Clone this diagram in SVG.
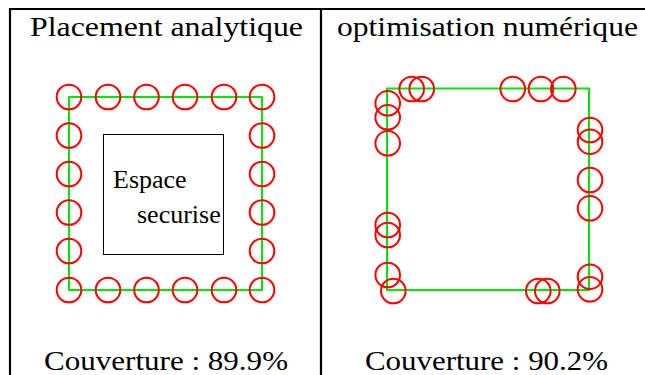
<svg xmlns="http://www.w3.org/2000/svg" width="645" height="375" viewBox="0 0 645 375">
<style>
.frame{stroke:#000;stroke-width:2.2;fill:none}
.zone{stroke:#00e600;stroke-width:2;fill:none}
.c{stroke:#f00;stroke-width:2;fill:none}
.box{stroke:#000;stroke-width:1;fill:none}
</style>
<rect width="645" height="375" fill="#fff"/>
<g id="frame">
<path class="frame" d="M10,375 V9 H645 M321,9 V375"/>
</g>
<g id="titles">
<text x="30" y="36" font-size="28" font-family="Liberation Serif" textLength="273" lengthAdjust="spacingAndGlyphs">Placement analytique</text>
<text x="337" y="36" font-size="28" font-family="Liberation Serif" textLength="301" lengthAdjust="spacingAndGlyphs">optimisation num&#233;rique</text>
</g>
<g id="left-panel">
<rect class="zone" x="69" y="97" width="193" height="193"/>
<g id="secure-zone">
<rect class="box" x="103.5" y="134.5" width="120" height="120"/>
<text x="113" y="188" font-size="26" font-family="Liberation Serif">Espace</text>
<text x="137" y="223" font-size="26" font-family="Liberation Serif">securise</text>
</g>
<g id="left-sensors">
<circle class="c" cx="69" cy="97" r="12.3"/>
<circle class="c" cx="108" cy="97" r="12.3"/>
<circle class="c" cx="146.5" cy="97" r="12.3"/>
<circle class="c" cx="185" cy="97" r="12.3"/>
<circle class="c" cx="224" cy="97" r="12.3"/>
<circle class="c" cx="262" cy="97" r="12.3"/>
<circle class="c" cx="69" cy="135.5" r="12.3"/>
<circle class="c" cx="69" cy="174" r="12.3"/>
<circle class="c" cx="69" cy="212.5" r="12.3"/>
<circle class="c" cx="69" cy="251" r="12.3"/>
<circle class="c" cx="262" cy="135.5" r="12.3"/>
<circle class="c" cx="262" cy="174" r="12.3"/>
<circle class="c" cx="262" cy="212.5" r="12.3"/>
<circle class="c" cx="262" cy="251" r="12.3"/>
<circle class="c" cx="69" cy="290" r="12.3"/>
<circle class="c" cx="108" cy="290" r="12.3"/>
<circle class="c" cx="146.5" cy="290" r="12.3"/>
<circle class="c" cx="185" cy="290" r="12.3"/>
<circle class="c" cx="224" cy="290" r="12.3"/>
<circle class="c" cx="262" cy="290" r="12.3"/>
</g>
</g>
<g id="right-panel">
<rect class="zone" x="387" y="88.5" width="202" height="201.5"/>
<g id="right-sensors">
<circle class="c" cx="411.7" cy="89" r="12.3"/>
<circle class="c" cx="421.7" cy="89" r="12.3"/>
<circle class="c" cx="512.7" cy="89" r="12.3"/>
<circle class="c" cx="541" cy="89" r="12.3"/>
<circle class="c" cx="563.3" cy="89" r="12.3"/>
<circle class="c" cx="387.7" cy="103.3" r="12.3"/>
<circle class="c" cx="387.7" cy="117.3" r="12.3"/>
<circle class="c" cx="387.7" cy="143.3" r="12.3"/>
<circle class="c" cx="387.7" cy="225" r="12.3"/>
<circle class="c" cx="387.7" cy="235" r="12.3"/>
<circle class="c" cx="387.7" cy="275" r="12.3"/>
<circle class="c" cx="393.3" cy="291" r="12.3"/>
<circle class="c" cx="590" cy="130" r="12.3"/>
<circle class="c" cx="590" cy="141.7" r="12.3"/>
<circle class="c" cx="590" cy="180" r="12.3"/>
<circle class="c" cx="590" cy="208.3" r="12.3"/>
<circle class="c" cx="590" cy="276.7" r="12.3"/>
<circle class="c" cx="590" cy="289.3" r="12.3"/>
<circle class="c" cx="538.3" cy="291" r="12.3"/>
<circle class="c" cx="547.3" cy="291" r="12.3"/>
</g>
</g>
<g id="results">
<text x="44" y="370" font-size="28" font-family="Liberation Serif" textLength="244" lengthAdjust="spacingAndGlyphs">Couverture : 89.9%</text>
<text x="365" y="370" font-size="28" font-family="Liberation Serif" textLength="243" lengthAdjust="spacingAndGlyphs">Couverture : 90.2%</text>
</g>
</svg>
